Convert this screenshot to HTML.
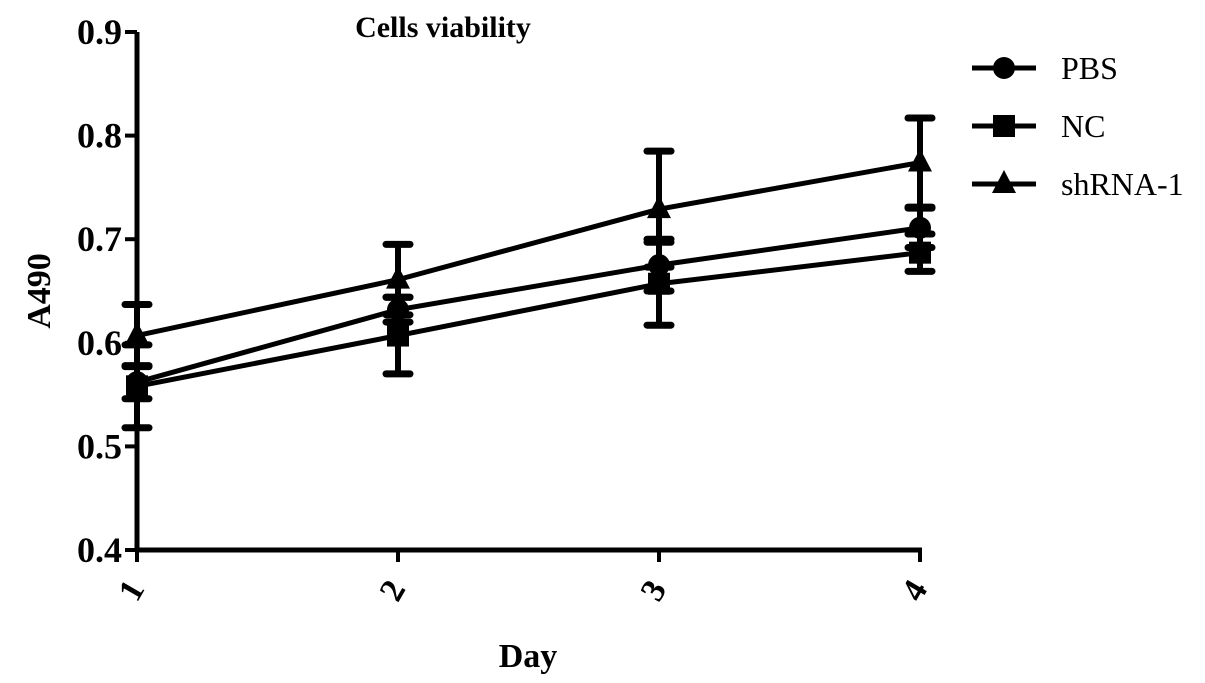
<!DOCTYPE html>
<html><head><meta charset="utf-8"><style>
html,body{margin:0;padding:0;background:#fff;width:1205px;height:683px;overflow:hidden}
svg{display:block;font-family:"Liberation Serif",serif}
</style></head><body>
<svg id="chart" width="1205" height="683" viewBox="0 0 1205 683"></svg>
<script>
const days = [1, 2, 3, 4];
const yTicks = ["0.4", "0.5", "0.6", "0.7", "0.8", "0.9"];
const pbsValues = [0.562, 0.632, 0.675, 0.711];
const pbsErr = [0.016, 0.012, 0.025, 0.019];
const ncValues = [0.558, 0.607, 0.657, 0.687];
const ncErr = [0.040, 0.037, 0.040, 0.018];
const shValues = [0.607, 0.661, 0.729, 0.774];
const shErr = [0.030, 0.034, 0.056, 0.043];
const seriesNames = ["PBS", "NC", "shRNA-1"];

const NS = "http://www.w3.org/2000/svg";
const svg = document.getElementById('chart');
const X0 = 137, X1 = 920, Y0 = 550, Y1 = 32;
const xs = d => X0 + (d - 1) * (X1 - X0) / 3;
const ys = v => Y0 - (v - 0.4) * (Y0 - Y1) / 0.5;
function mk(tag, attrs, parent) {
  const e = document.createElementNS(NS, tag);
  for (const k in attrs) e.setAttribute(k, attrs[k]);
  (parent || svg).appendChild(e);
  return e;
}
const black = "#000";
const ax = mk('g', {});


mk('line', {x1: X0, y1: Y1, x2: X0, y2: Y0 + 2, stroke: black, 'stroke-width': 5}, ax);
mk('line', {x1: X0 - 2, y1: Y0, x2: X1 + 2, y2: Y0, stroke: black, 'stroke-width': 5}, ax);
yTicks.forEach(t => {
  const y = ys(parseFloat(t));
  mk('line', {x1: X0 - 12, y1: y, x2: X0, y2: y, stroke: black, 'stroke-width': 4}, ax);
  const tx = mk('text', {x: X0 - 15, y: y + 12, 'text-anchor': 'end', 'font-size': 36, 'font-weight': 'bold'}, ax);
  
  
  tx.textContent = t;
});
days.forEach(d => {
  const x = xs(d);
  mk('line', {x1: x, y1: Y0, x2: x, y2: Y0 + 12, stroke: black, 'stroke-width': 4}, ax);
  const tx = mk('text', {x: 0, y: 0, 'text-anchor': 'middle', 'font-size': 34, 'font-weight': 'bold',
    transform: `translate(${x + 4},${Y0 + 46}) rotate(-60)`}, ax);
  
  
  tx.textContent = d;
});
const yt = mk('text', {x: 0, y: 0, transform: 'translate(50,291) rotate(-90)', 'text-anchor': 'middle', 'font-size': 34, 'font-weight': 'bold'});


yt.textContent = 'A490';
const xt = mk('text', {x: 528, y: 667, 'text-anchor': 'middle', 'font-size': 34, 'font-weight': 'bold'});


xt.textContent = 'Day';
const tt = mk('text', {x: 443, y: 37, 'text-anchor': 'middle', 'font-size': 30, 'font-weight': 'bold'});


tt.textContent = 'Cells viability';

function marker(shape, x, y, g) {
  if (shape === 0) mk('circle', {cx: x, cy: y, r: 11, fill: black}, g);
  else if (shape === 1) mk('rect', {x: x - 11, y: y - 11, width: 22, height: 22, fill: black}, g);
  else mk('polygon', {points: `${x},${y - 14} ${x + 12},${y + 9} ${x - 12},${y + 9}`, fill: black}, g);
}
const all = [[pbsValues, pbsErr], [ncValues, ncErr], [shValues, shErr]];
all.forEach(([vals, errs], si) => {
  const g = mk('g', {});
  
  
  vals.forEach((v, i) => {
    const x = xs(days[i]), yu = ys(v + errs[i]), yl = ys(v - errs[i]);
    mk('line', {x1: x, y1: yu, x2: x, y2: yl, stroke: black, 'stroke-width': 6}, g);
    mk('line', {x1: x - 12, y1: yu, x2: x + 12, y2: yu, stroke: black, 'stroke-width': 7, 'stroke-linecap': 'round'}, g);
    mk('line', {x1: x - 12, y1: yl, x2: x + 12, y2: yl, stroke: black, 'stroke-width': 7, 'stroke-linecap': 'round'}, g);
  });
  mk('polyline', {points: vals.map((v, i) => xs(days[i]) + ',' + ys(v)).join(' '), fill: 'none', stroke: black, 'stroke-width': 5}, g);
  vals.forEach((v, i) => marker(si, xs(days[i]), ys(v), g));
});
seriesNames.forEach((n, i) => {
  const y = 68 + i * 58;
  const g = mk('g', {});
  
  
  mk('line', {x1: 972, y1: y, x2: 1036, y2: y, stroke: black, 'stroke-width': 5}, g);
  marker(i, 1004, y, g);
  const t = mk('text', {x: 1061, y: y + 11, 'font-size': 32}, g);
  t.textContent = n;
});
</script>
</body></html>
